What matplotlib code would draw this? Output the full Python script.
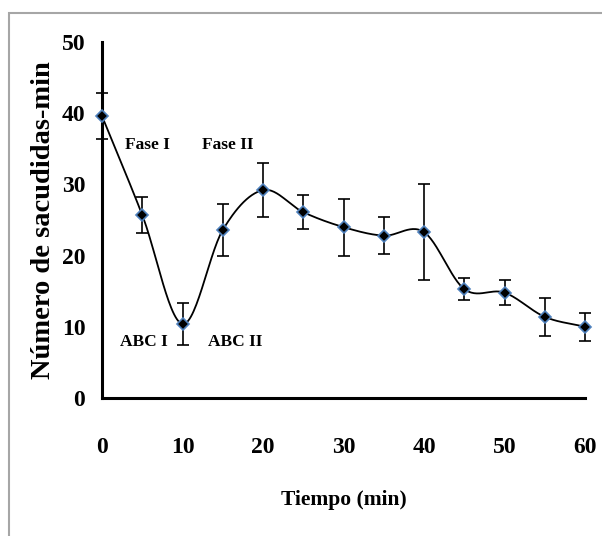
import numpy as np
import matplotlib
matplotlib.use("Agg")
import matplotlib.pyplot as plt
from matplotlib.patches import Rectangle

tiempo = [0, 5, 10, 15, 20, 25, 30, 35, 40, 45, 50, 55, 60]
sacudidas = [39.6, 25.7, 10.4, 23.6, 29.2, 26.1, 24.0, 22.8, 23.3, 15.3, 14.8, 11.4, 10.0]
error = [3.2, 2.5, 3.0, 3.7, 3.8, 2.4, 4.0, 2.6, 6.7, 1.5, 1.8, 2.7, 2.0]
y_ticks = [0, 10, 20, 30, 40, 50]
x_ticks = [0, 10, 20, 30, 40, 50, 60]
anotaciones = ["Fase I", "Fase II", "ABC I", "ABC II"]
anot_x = [5.7, 15.6, 5.2, 16.6]
anot_y = [35.5, 35.5, 7.9, 7.9]


def smooth(x, y, n=30):
    # Catmull-Rom style smoothing (similar to Excel smoothed line)
    x = np.asarray(x, float)
    y = np.asarray(y, float)
    px = np.concatenate([[2 * x[0] - x[1]], x, [2 * x[-1] - x[-2]]])
    py = np.concatenate([[2 * y[0] - y[1]], y, [2 * y[-1] - y[-2]]])
    xs, ys = [], []
    t = np.linspace(0, 1, n)
    for i in range(1, len(px) - 2):
        p0, p1, p2, p3 = [np.array([px[j], py[j]]) for j in (i - 1, i, i + 1, i + 2)]
        b1 = p1 + (p2 - p0) / 6
        b2 = p2 - (p3 - p1) / 6
        pts = ((1 - t) ** 3)[:, None] * p1 + (3 * (1 - t) ** 2 * t)[:, None] * b1 \
            + (3 * (1 - t) * t ** 2)[:, None] * b2 + (t ** 3)[:, None] * p2
        xs.extend(pts[:, 0])
        ys.extend(pts[:, 1])
    return np.array(xs), np.array(ys)


plt.rcParams['font.family'] = ['Liberation Serif', 'DejaVu Serif']

fig = plt.figure(figsize=(6.02, 5.36), dpi=100)
fig.patches.append(Rectangle((9 / 602, -0.05), 1.1, (536 - 13) / 536 + 0.05,
                             transform=fig.transFigure, fill=False,
                             edgecolor='#a6a6a6', linewidth=1.5))
ax = fig.add_axes([102 / 602, (536 - 398) / 536, (585 - 102) / 602, (398 - 42) / 536])

sx, sy = smooth(tiempo, sacudidas)
ax.plot(sx, sy, color='black', linewidth=1.3, clip_on=False, zorder=2)
ax.errorbar(tiempo, sacudidas, yerr=error, fmt='none', ecolor='black',
            elinewidth=1.2, capsize=4, capthick=1.2, clip_on=False, zorder=3)
ax.plot(tiempo, sacudidas, linestyle='none', marker='D', markersize=6,
        markerfacecolor='black', markeredgecolor='#4F81BD', markeredgewidth=1.2,
        clip_on=False, zorder=4)

for txt, xx, yy in zip(anotaciones, anot_x, anot_y):
    ax.text(xx, yy, txt, ha='center', va='center', fontsize=12.5, fontweight='bold')

ax.set_xlim(0, 60)
ax.set_ylim(0, 50)
ax.set_xticks(x_ticks)
ax.set_yticks(y_ticks)
ax.tick_params(axis='both', length=0, labelsize=17)
ax.tick_params(axis='x', pad=28)
ax.tick_params(axis='y', pad=12)
for lbl in ax.get_xticklabels() + ax.get_yticklabels():
    lbl.set_fontweight('bold')
for s in ['top', 'right']:
    ax.spines[s].set_visible(False)
for s in ['left', 'bottom']:
    ax.spines[s].set_linewidth(2.2)
    ax.spines[s].set_color('black')

ax.set_xlabel('Tiempo (min)', fontsize=15.5, fontweight='bold', labelpad=23)
ax.set_ylabel('Número de sacudidas-min', fontsize=20.5, fontweight='bold', labelpad=4)

fig.savefig('out.png', dpi=100)
